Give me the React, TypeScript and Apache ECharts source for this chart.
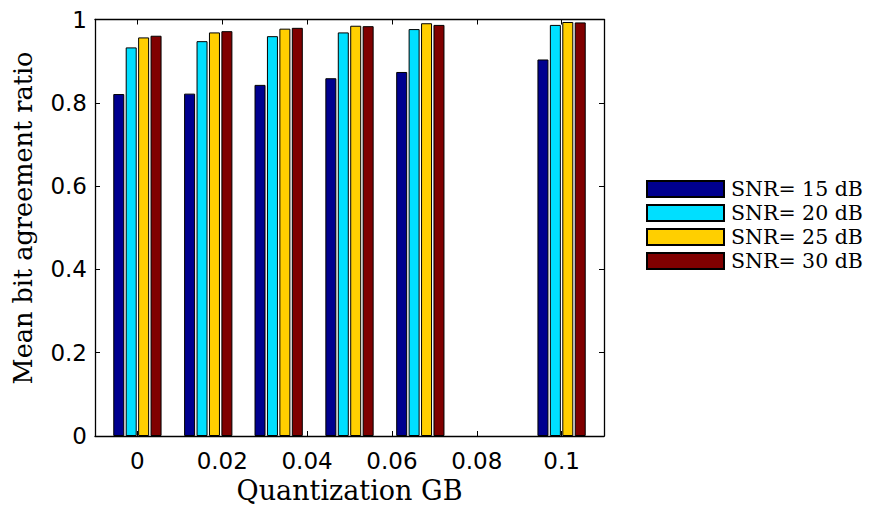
import React, { useEffect, useRef } from "react";
import * as echarts from "echarts";

const xValues = [0, 0.0167, 0.0333, 0.05, 0.0667, 0.1];
const snr15 = [0.821, 0.822, 0.843, 0.859, 0.874, 0.904];
const snr20 = [0.933, 0.948, 0.96, 0.969, 0.977, 0.987];
const snr25 = [0.957, 0.969, 0.978, 0.985, 0.991, 0.994];
const snr30 = [0.961, 0.972, 0.98, 0.984, 0.987, 0.993];
const seriesNames = ["SNR= 15 dB", "SNR= 20 dB", "SNR= 25 dB", "SNR= 30 dB"];
const seriesColors = ["#00008F", "#00DFFF", "#FFCF00", "#800000"];
const xTicks = [0, 0.02, 0.04, 0.06, 0.08, 0.1];

export default function App() {
  const ref = useRef<HTMLDivElement>(null);
  useEffect(() => {
    if (!ref.current) return;
    const chart = echarts.init(ref.current, null, { renderer: "svg" });
    const all = [snr15, snr20, snr25, snr30];
    const axisLine = { show: true, onZero: false, lineStyle: { color: "#000", width: 1.3 } };
    const tickStyle = { show: true, inside: true, length: 5, lineStyle: { color: "#000", width: 1 } };
    chart.setOption({
      animation: false,
      backgroundColor: "#fff",
      grid: { left: 87, top: 6, width: 509, height: 422 },
      legend: {
        orient: "vertical",
        left: 638,
        top: 169,
        padding: 0,
        itemGap: 0,
        itemWidth: 77,
        itemHeight: 16,
        icon: "rect",
        data: seriesNames,
        textStyle: {
          fontFamily: "DejaVu Serif",
          fontSize: 20.5,
          color: "#000",
          lineHeight: 24,
          padding: [0, 0, 0, 2],
        },
      },
      xAxis: [
        {
          type: "value",
          min: -0.01,
          max: 0.11,
          position: "bottom",
          splitLine: { show: false },
          axisLine,
          axisTick: { ...tickStyle, customValues: xTicks },
          axisLabel: {
            customValues: xTicks,
            margin: 13,
            fontFamily: "DejaVu Sans",
            fontSize: 23,
            color: "#000",
          },
          name: "Quantization GB",
          nameLocation: "middle",
          nameGap: 38,
          nameTextStyle: { fontFamily: "DejaVu Serif", fontSize: 27, color: "#000" },
        },
        {
          type: "value",
          min: -0.01,
          max: 0.11,
          position: "top",
          splitLine: { show: false },
          axisLine,
          axisTick: { ...tickStyle, customValues: xTicks },
          axisLabel: { show: false },
        },
      ],
      yAxis: [
        {
          type: "value",
          min: 0,
          max: 1,
          interval: 0.2,
          position: "left",
          splitLine: { show: false },
          axisLine,
          axisTick: tickStyle,
          axisLabel: { margin: 8, fontFamily: "DejaVu Sans", fontSize: 23, color: "#000" },
        },
        {
          type: "value",
          min: 0,
          max: 1,
          interval: 0.2,
          position: "right",
          splitLine: { show: false },
          axisLine,
          axisTick: tickStyle,
          axisLabel: { show: false },
        },
      ],
      graphic: [
        {
          type: "text",
          x: 15,
          y: 210,
          rotation: Math.PI / 2,
          style: {
            text: "Mean bit agreement ratio",
            fontFamily: "DejaVu Serif",
            fontSize: 25.5,
            fill: "#000",
            align: "center",
            verticalAlign: "middle",
          },
        },
      ],
      series: all.map((vals, i) => ({
        name: seriesNames[i],
        type: "bar",
        xAxisIndex: 0,
        yAxisIndex: 0,
        barWidth: 11,
        barGap: "13%",
        itemStyle: { color: seriesColors[i], borderColor: "#000", borderWidth: 1 },
        data: xValues.map((x, j) => [x, vals[j]]),
      })),
    });
    return () => chart.dispose();
  }, []);
  return <div ref={ref} style={{ width: 876, height: 503 }} />;
}
